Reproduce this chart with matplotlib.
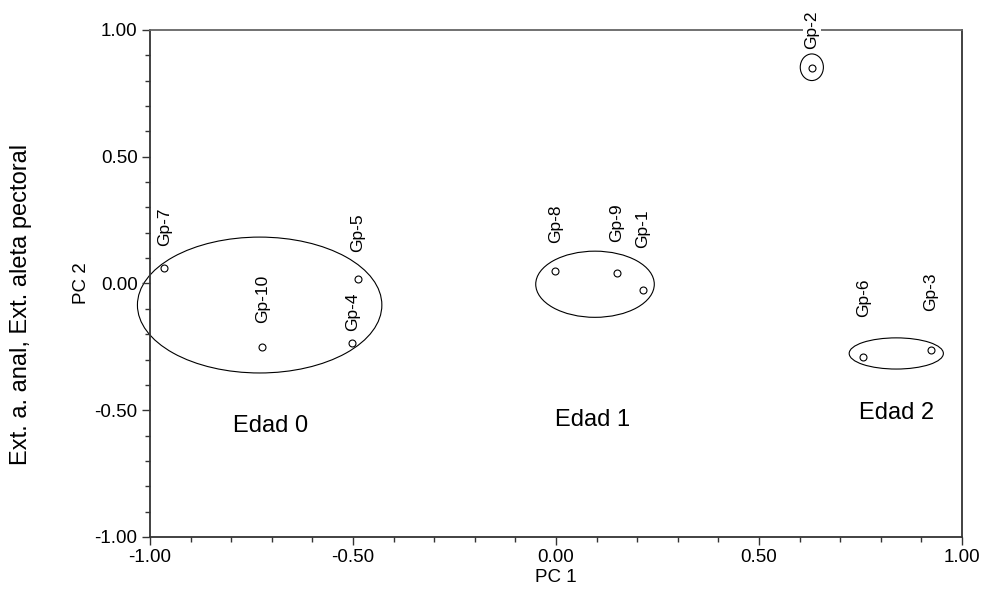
import matplotlib
matplotlib.use("Agg")
import matplotlib.pyplot as plt
from matplotlib.patches import Ellipse
from matplotlib.ticker import MultipleLocator, FormatStrFormatter

plt.rcParams['font.family'] = ['Liberation Sans', 'DejaVu Sans']
plt.rcParams['axes.unicode_minus'] = False

# group scores on the first two components
groups = ['Gp-1', 'Gp-2', 'Gp-3', 'Gp-4', 'Gp-5',
          'Gp-6', 'Gp-7', 'Gp-8', 'Gp-9', 'Gp-10']
pc1 = [0.214, 0.630, 0.923, -0.502, -0.488, 0.757, -0.965, -0.002, 0.150, -0.723]
pc2 = [-0.025, 0.849, -0.262, -0.236, 0.019, -0.291, 0.062, 0.051, 0.042, -0.249]

# ellipses that enclose the age classes (centre x, centre y, width, height)
ell_x = [-0.730, 0.096, 0.838, 0.630]
ell_y = [-0.085, -0.003, -0.276, 0.853]
ell_w = [0.602, 0.292, 0.232, 0.057]
ell_h = [0.536, 0.261, 0.123, 0.105]

ages = ['Edad 0', 'Edad 1', 'Edad 2']
age_x = [-0.704, 0.091, 0.839]
age_y = [-0.561, -0.540, -0.510]

# vertical gap (points) between marker and its label
label_gap = [30, 14, 28, 9, 19, 29, 16, 20, 22, 17]

fig = plt.figure(figsize=(9.85, 5.96), dpi=100)
ax = fig.add_axes([0.1523, 0.099, 0.8244, 0.8507])

ax.plot(pc1, pc2, 'o', ms=5, mfc='white', mec='black', mew=0.8, zorder=4)

for x, y, w, h in zip(ell_x, ell_y, ell_w, ell_h):
    ax.add_patch(Ellipse((x, y), w, h, fill=False, ec='black', lw=0.8,
                         clip_on=False))

for name, x, y, g in zip(groups, pc1, pc2, label_gap):
    ax.annotate(name, (x, y), xytext=(0, g), textcoords='offset points',
                rotation=90, ha='center', va='bottom', fontsize=12.5,
                annotation_clip=False, zorder=5,
                bbox=dict(boxstyle='square,pad=0.1', fc='white', ec='none'))

for name, x, y in zip(ages, age_x, age_y):
    ax.text(x, y, name, ha='center', va='center', fontsize=17)

ax.set_xlim(-1, 1)
ax.set_ylim(-1, 1)
ax.xaxis.set_major_locator(MultipleLocator(0.5))
ax.xaxis.set_minor_locator(MultipleLocator(0.1))
ax.yaxis.set_major_locator(MultipleLocator(0.5))
ax.yaxis.set_minor_locator(MultipleLocator(0.1))
ax.xaxis.set_major_formatter(FormatStrFormatter('%.2f'))
ax.yaxis.set_major_formatter(FormatStrFormatter('%.2f'))
ax.tick_params(which='both', direction='out', top=False, right=False,
               labelsize=13.5, color='#333333', width=1.0)
ax.tick_params(which='major', length=6, pad=3)
ax.tick_params(which='minor', length=3.5)

for side in ['left', 'bottom', 'right']:
    ax.spines[side].set_color('#333333')
    ax.spines[side].set_linewidth(1.3)
ax.spines['top'].set_color('#666666')
ax.spines['top'].set_linewidth(1.3)

ax.set_xlabel('PC 1', fontsize=13.5, labelpad=2)
ax.set_ylabel('PC 2', fontsize=13.5, labelpad=3)
fig.text(0.021, 0.49, 'Ext. a. anal, Ext. aleta pectoral', rotation=90,
         ha='center', va='center', fontsize=17)

fig.savefig('out.png', dpi=100)
